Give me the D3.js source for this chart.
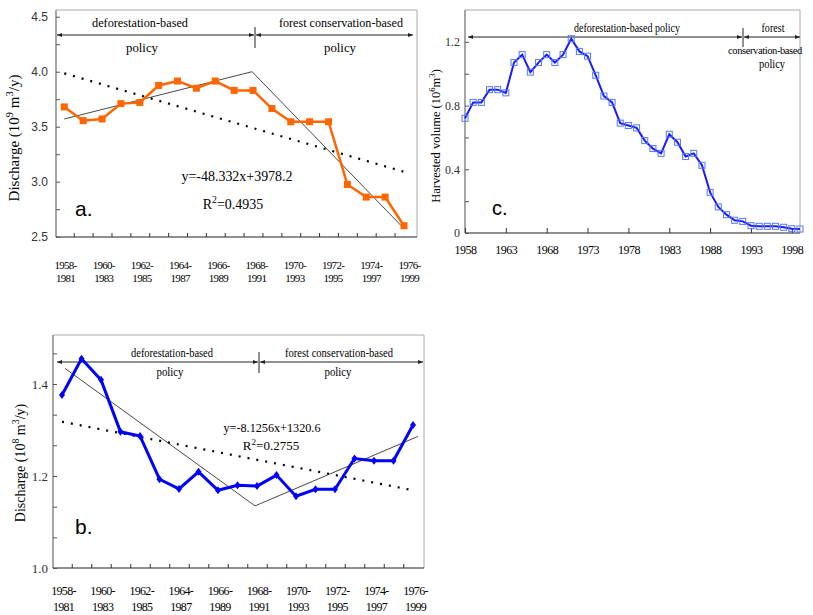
<!DOCTYPE html>
<html><head><meta charset="utf-8">
<script src="https://cdn.jsdelivr.net/npm/d3@7"></script>
<style>body{margin:0;background:#fff} svg{display:block}</style>
</head><body><svg id="chart" width="813" height="615"></svg>
<script>
// ---------- DATA ----------
const periods = ["1958-1981","1959-1982","1960-1983","1961-1984","1962-1985","1963-1986","1964-1987","1965-1988","1966-1989","1967-1990","1968-1991","1969-1992","1970-1993","1971-1994","1972-1995","1973-1996","1974-1997","1975-1998","1976-1999"];
const dischargeA = [3.68,3.555,3.57,3.71,3.72,3.875,3.915,3.85,3.915,3.83,3.83,3.665,3.545,3.545,3.545,2.975,2.86,2.86,2.6];
const trendA = [[0,3.57],[9.95,4.0],[17.85,2.6]];
const linearA = [[0,3.985],[18,3.09]];
const yTicksA = [2.5,3.0,3.5,4.0,4.5];
const yMinorA = [2.5,2.75,3.0,3.25,3.5,3.75,4.0,4.25,4.5];

const dischargeB = [1.376,1.455,1.409,1.296,1.287,1.193,1.172,1.209,1.169,1.180,1.178,1.202,1.156,1.171,1.171,1.238,1.233,1.233,1.311];
const trendB = [[0.15,1.434],[9.9,1.135],[18.25,1.286]];
const linearB = [[0,1.318],[18,1.169]];
const yTicksB = [1.0,1.2,1.4];
const yMinorB = [1.0,1.0667,1.1333,1.2,1.2667,1.3333,1.4,1.4667];

const harvestYears = [1958,1959,1960,1961,1962,1963,1964,1965,1966,1967,1968,1969,1970,1971,1972,1973,1974,1975,1976,1977,1978,1979,1980,1981,1982,1983,1984,1985,1986,1987,1988,1989,1990,1991,1992,1993,1994,1995,1996,1997,1998,1999];
const harvestVolume = [0.72,0.82,0.82,0.90,0.90,0.88,1.07,1.12,1.01,1.07,1.12,1.07,1.12,1.22,1.14,1.11,0.99,0.86,0.82,0.69,0.675,0.66,0.58,0.53,0.50,0.62,0.57,0.48,0.50,0.425,0.255,0.164,0.115,0.08,0.073,0.046,0.042,0.042,0.042,0.036,0.027,0.025];
const xTicksC = [1958,1963,1968,1973,1978,1983,1988,1993,1998];
const yTicksC = [0,0.4,0.8,1.2];
const yMinorC = [0,0.2,0.4,0.6,0.8,1.0,1.2];

const policyLabels = {left:["deforestation-based","policy"], right:["forest conservation-based","policy"]};

// ---------- DRAW ----------
const SERIF = "'Liberation Serif','Times New Roman',serif";
const SANS = "'Liberation Sans',Arial,sans-serif";
const svg = d3.select("#chart");
const defs = svg.append("defs");
defs.append("marker").attr("id","ah").attr("viewBox","0 0 10 10")
  .attr("refX",10).attr("refY",5).attr("markerWidth",5).attr("markerHeight",5)
  .attr("orient","auto-start-reverse")
  .append("path").attr("d","M0,1L10,5L0,9Z").attr("fill","#222");

function frame(x0,y0,x1,y1){
  const g = svg.append("g");
  g.append("line").attr("x1",x0).attr("y1",y0).attr("x2",x1).attr("y2",y0).attr("stroke","#aaa");
  g.append("line").attr("x1",x1).attr("y1",y0).attr("x2",x1).attr("y2",y1).attr("stroke","#aaa");
  g.append("line").attr("x1",x0).attr("y1",y0).attr("x2",x0).attr("y2",y1).attr("stroke","#888").attr("stroke-width",1.5);
  g.append("line").attr("x1",x0).attr("y1",y1).attr("x2",x1).attr("y2",y1).attr("stroke","#222").attr("stroke-width",1.2);
}
function yAxis(x0, y, major, minor, fmt, font, size, pad){
  svg.append("g").attr("transform",`translate(${x0},0)`)
    .call(d3.axisLeft(y).tickValues(minor).tickSize(-4).tickFormat(""))
    .call(g=>{g.select(".domain").remove(); g.selectAll("line").attr("stroke","#555");});
  svg.append("g").attr("transform",`translate(${x0},0)`)
    .call(d3.axisLeft(y).tickValues(major).tickSize(0).tickPadding(pad).tickFormat(fmt))
    .call(g=>{g.select(".domain").remove();
      g.selectAll("text").attr("font-family",font).attr("font-size",size).attr("fill","#333");});
}
function xCatAxis(y0, xTick, xLab, size, y1off, y2off){
  const mids = d3.range(0,18).map(i=>i+0.5);
  svg.append("g").attr("transform",`translate(0,${y0})`)
    .call(d3.axisBottom(xTick).tickValues(mids).tickSize(-4).tickFormat(""))
    .call(g=>{g.select(".domain").remove(); g.selectAll("line").attr("stroke","#333");});
  const evens = d3.range(0,19,2);
  svg.append("g").attr("transform",`translate(0,${y0})`)
    .call(d3.axisBottom(xLab).tickValues(evens).tickSize(0).tickFormat(""))
    .call(g=>{g.select(".domain").remove();
      g.selectAll(".tick text").each(function(i){
        const t = d3.select(this).attr("y",0).attr("dy",null)
          .attr("font-family",SERIF).attr("font-size",size).attr("fill","#000").attr("letter-spacing","-0.7px");
        const parts = periods[i].split("-");
        t.append("tspan").attr("x",0).attr("y",y1off).text(parts[0]+"-");
        t.append("tspan").attr("x",0).attr("y",y2off).text(parts[1]);
      });});
}
function policy(x1,xd,x2,y,yt,yb){
  const g = svg.append("g").attr("stroke","#222").attr("stroke-width",1);
  g.append("line").attr("x1",x1).attr("y1",y).attr("x2",xd-1).attr("y2",y)
    .attr("marker-start","url(#ah)").attr("marker-end","url(#ah)");
  g.append("line").attr("x1",xd+1).attr("y1",y).attr("x2",x2).attr("y2",y)
    .attr("marker-start","url(#ah)").attr("marker-end","url(#ah)");
  g.append("line").attr("x1",xd).attr("y1",yt).attr("x2",xd).attr("y2",yb);
}
function txt(x,y,s,size,anchor,font,len){
  const t = svg.append("text").attr("x",x).attr("y",y).attr("font-family",font||SERIF)
    .attr("font-size",size).attr("text-anchor",anchor||"middle").attr("fill","#000").text(s);
  if(len) t.attr("textLength",len).attr("lengthAdjust","spacingAndGlyphs");
  return t;
}
function supText(x,y,parts,size,rotate){
  const t = svg.append("text").attr("font-family",SERIF).attr("font-size",size)
    .attr("text-anchor","middle").attr("fill","#000");
  if(rotate) t.attr("transform",`translate(${x},${y}) rotate(-90)`);
  else t.attr("x",x).attr("y",y);
  let up=false;
  parts.forEach(([s,sup])=>{
    const sp = t.append("tspan").text(s);
    if(sup && !up){sp.attr("dy",-size*0.4).attr("font-size",size*0.7); up=true;}
    else if(sup){sp.attr("font-size",size*0.7);}
    else if(!sup && up){sp.attr("dy",size*0.4); up=false;}
  });
  return t;
}
function trend(x,y,knots,dotted){
  const p = svg.append("path").datum(knots)
    .attr("d",d3.line().x(d=>x(d[0])).y(d=>y(d[1])))
    .attr("fill","none").attr("stroke","#000");
  if(dotted) p.attr("stroke-width",2.2).attr("stroke-dasharray","2,7");
  else p.attr("stroke-width",0.9).attr("stroke","#333");
}

// ===== Panel a =====
{
  const X0=56,X1=417,Y0=10,Y1=237;
  const x = d3.scaleLinear().domain([0,18]).range([64.3,404]);
  const xLab = d3.scaleLinear().domain([0,18]).range([65,409]);
  const y = d3.scaleLinear().domain([2.5,4.5]).range([236.7,16.7]);
  frame(X0,Y0,X1,Y1);
  yAxis(X0,y,yTicksA,yMinorA,d3.format(".1f"),SANS,12,8);
  xCatAxis(Y1,x,xLab,11,32,45);
  policy(57,255,413,35,27,48);
  txt(140,27,policyLabels.left[0],13,"middle",SERIF,96);
  txt(142,52,policyLabels.left[1],13,"middle",SERIF,32);
  txt(341,27,policyLabels.right[0],13,"middle",SERIF,124);
  txt(340,52,policyLabels.right[1],13,"middle",SERIF,32);
  trend(x,y,linearA,true);
  trend(x,y,trendA,false);
  svg.append("path").datum(dischargeA)
    .attr("d",d3.line().x((d,i)=>x(i)).y(d=>y(d)))
    .attr("fill","none").attr("stroke","#ff6600").attr("stroke-width",2.5);
  svg.append("g").selectAll("rect").data(dischargeA).join("rect")
    .attr("x",(d,i)=>x(i)-3.5).attr("y",d=>y(d)-3.5).attr("width",7).attr("height",7)
    .attr("fill","#ff6600");
  txt(237,181,"y=-48.332x+3978.2",14,"middle",SERIF,111);
  supText(233,209,[["R",false],["2",true],["=0.4935",false]],14);
  txt(75,216,"a.",21,"start",SANS);
  supText(19,138,[["Discharge (10",false],["9",true],[" m",false],["3",true],["/y)",false]],15,true);
}

// ===== Panel b =====
{
  const X0=53,X1=424,Y0=335,Y1=568;
  const x = d3.scaleLinear().domain([0,18]).range([62,413]);
  const xLab = d3.scaleLinear().domain([0,18]).range([63,415]);
  const y = d3.scaleLinear().domain([1.0,1.5]).range([568,338]);
  frame(X0,Y0,X1,Y1);
  yAxis(X0,y,yTicksB,yMinorB,d3.format(".1f"),SERIF,13,5);
  xCatAxis(Y1,x,xLab,12,27,43);
  policy(57,259,423,362,352,373);
  txt(172,357,policyLabels.left[0],12,"middle",SERIF,82);
  txt(170,376,policyLabels.left[1],12,"middle",SERIF,27);
  txt(339,357,policyLabels.right[0],12,"middle",SERIF,108);
  txt(338,376,policyLabels.right[1],12,"middle",SERIF,27);
  trend(x,y,linearB,true);
  trend(x,y,trendB,false);
  svg.append("path").datum(dischargeB)
    .attr("d",d3.line().x((d,i)=>x(i)).y(d=>y(d)))
    .attr("fill","none").attr("stroke","#0000ff").attr("stroke-width",3);
  svg.append("g").selectAll("path.m").data(dischargeB).join("path")
    .attr("transform",(d,i)=>`translate(${x(i)},${y(d)})`)
    .attr("d","M0,-4L3,0L0,4L-3,0Z").attr("fill","#0000ff");
  txt(272,432,"y=-8.1256x+1320.6",13,"middle",SERIF,97);
  supText(271,450,[["R",false],["2",true],["=0.2755",false]],13);
  txt(75,534,"b.",21,"start",SANS);
  supText(25,463,[["Discharge (10",false],["8",true],[" m",false],["3",true],["/y)",false]],14,true);
}

// ===== Panel c =====
{
  const X0=465,X1=800,Y0=10,Y1=233;
  const x = d3.scaleLinear().domain([1958,1999]).range([465,800]);
  const y = d3.scaleLinear().domain([0,1.4]).range([233,10]);
  frame(X0,Y0,X1,Y1);
  yAxis(X0,y,yTicksC,yMinorC,d=>d===0?"0":d3.format(".1f")(d),SERIF,12,5);
  svg.append("g").attr("transform",`translate(0,${Y1})`)
    .call(d3.axisBottom(x).tickValues(xTicksC).tickSize(-5).tickPadding(12).tickFormat(d3.format("d")))
    .call(g=>{g.select(".domain").remove(); g.selectAll("line").attr("stroke","#333");
      g.selectAll("text").attr("font-family",SERIF).attr("font-size",12).attr("fill","#000").attr("letter-spacing","-0.5px");});
  policy(468,743,800,37,28,47);
  txt(627,32,"deforestation-based policy",12,"middle",SERIF,106);
  txt(773,32,"forest",12,"middle",SERIF,23);
  txt(765,54,"conservation-based",10.5,"middle",SERIF).attr("letter-spacing","-0.4px");
  txt(772,68,"policy",12,"middle",SERIF,26);
  svg.append("path").datum(harvestVolume)
    .attr("d",d3.line().x((d,i)=>x(harvestYears[i])).y(d=>y(d)))
    .attr("fill","none").attr("stroke","#1a1aff").attr("stroke-width",2);
  svg.append("g").selectAll("rect").data(harvestVolume).join("rect")
    .attr("x",(d,i)=>x(harvestYears[i])-3).attr("y",d=>y(d)-3).attr("width",6).attr("height",6)
    .attr("fill","none").attr("stroke","#5577ff").attr("stroke-width",1);
  txt(492,215,"c.",20,"start",SANS);
  supText(440,136,[["Harvested volume (10",false],["6",true],["m",false],["3",true],[")",false]],12.5,true);
}
</script></body></html>
